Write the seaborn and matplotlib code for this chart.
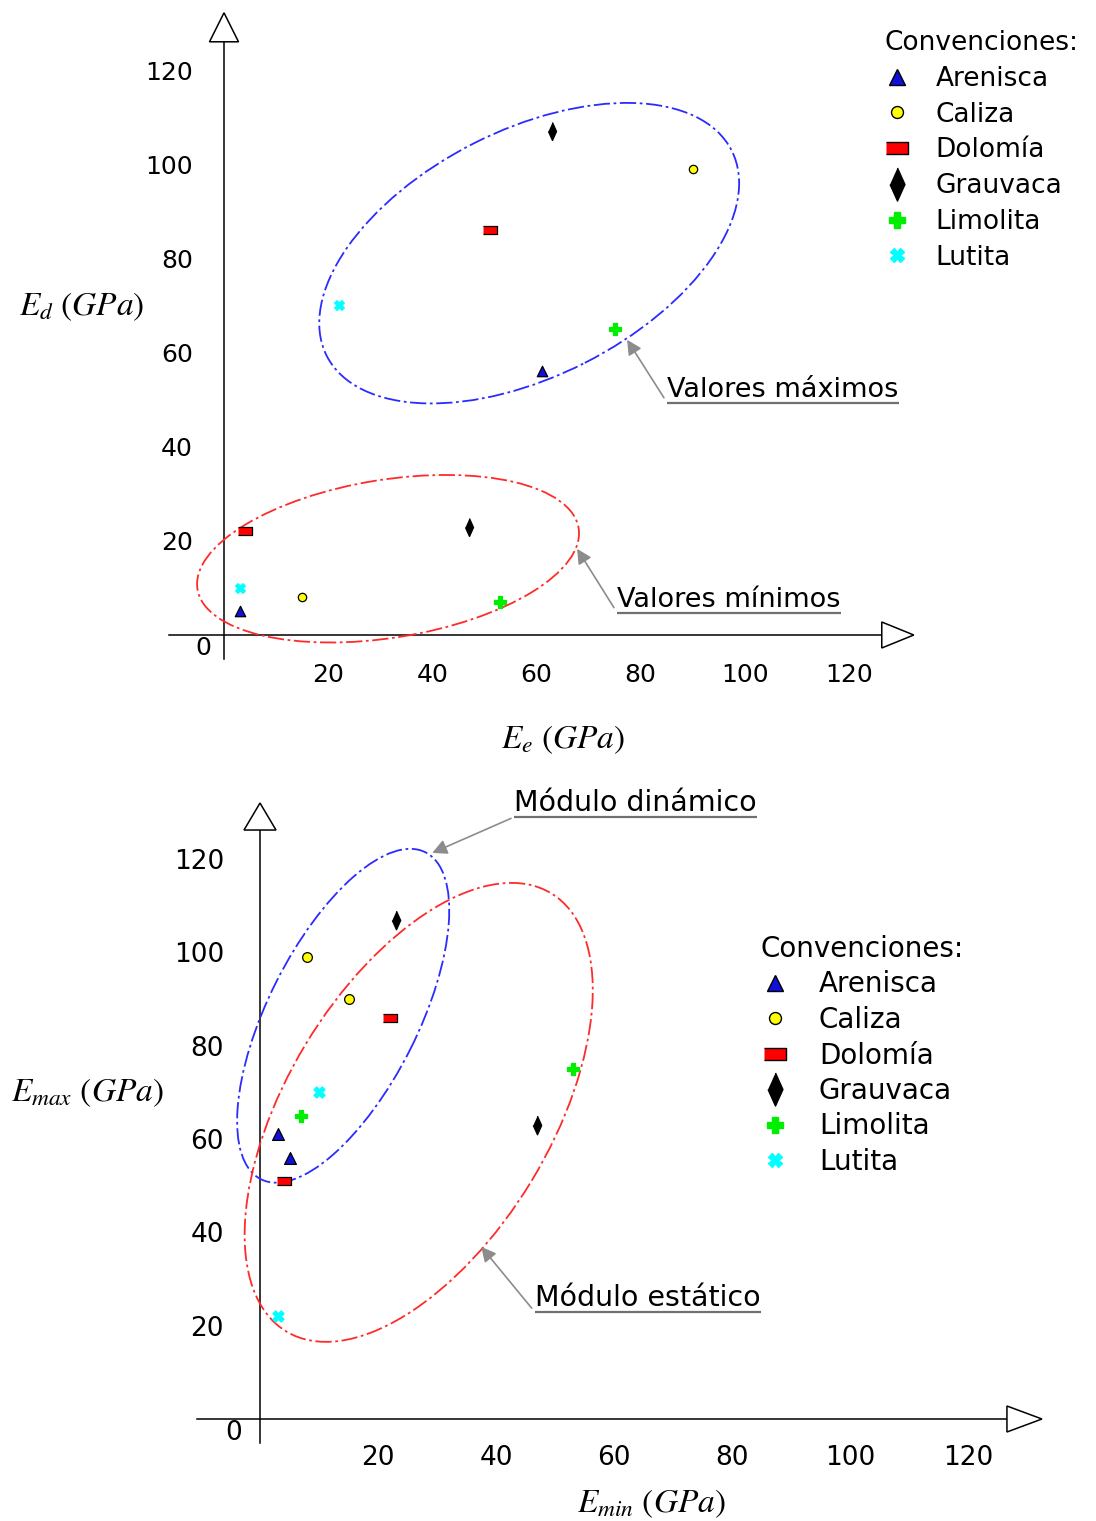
import numpy as np
import pandas as pd
import matplotlib
matplotlib.use("Agg")
import matplotlib.pyplot as plt
import seaborn as sns
from matplotlib.patches import Ellipse, Polygon
from matplotlib.lines import Line2D
from matplotlib.transforms import ScaledTranslation

# Módulos de elasticidad por tipo de roca (GPa)
rocas = ["Arenisca", "Caliza", "Dolomía", "Grauvaca", "Limolita", "Lutita"]
ee_min = [3, 15, 4, 47, 53, 3]       # módulo estático mínimo
ee_max = [61, 90, 51, 63, 75, 22]    # módulo estático máximo
ed_min = [5, 8, 22, 23, 7, 10]       # módulo dinámico mínimo
ed_max = [56, 99, 86, 107, 65, 70]   # módulo dinámico máximo

ticks = [20, 40, 60, 80, 100, 120]
tick_labels = ["20", "40", "60", "80", "100", "120"]

colores = ["#1010d8", "#ffff00", "#ff0000", "#000000", "#00ee00", "#00ffff"]
bordes = ["#000000", "#000000", "#000000", "#000000", "#00ee00", "#00ffff"]

rect = [(-1, -0.55), (1, -0.55), (1, 0.55), (-1, 0.55)]
rombo = [(0, 1), (0.45, 0), (0, -1), (-0.45, 0)]
marcadores = ["^", "o", rect, rombo, "P", "X"]

sns.set_style("white")
plt.rcParams["font.family"] = ["DejaVu Sans"]
plt.rcParams["mathtext.fontset"] = "stix"
for k in ["text.color", "axes.labelcolor", "xtick.color", "ytick.color",
          "xtick.labelcolor", "ytick.labelcolor", "legend.labelcolor"]:
    plt.rcParams[k] = "black"

DPI = 100
fig = plt.figure(figsize=(10.96, 15.21), dpi=DPI)
W, H = 1096, 1521


def axes_px(x0, sx, y0, sy, xlim, ylim):
    """Axes placed so that data x=0 lands on pixel x0 and y=0 on pixel row y0."""
    left = x0 + xlim[0] * sx
    right = x0 + xlim[1] * sx
    top = y0 - ylim[1] * sy
    bottom = y0 - ylim[0] * sy
    ax = fig.add_axes([left / W, 1 - bottom / H, (right - left) / W, (bottom - top) / H])
    ax.set_xlim(*xlim)
    ax.set_ylim(*ylim)
    return ax


def ejes(ax, xmin, ymin, xarrow, yarrow, tick_len, tick_fs, ypad, xpad, cero):
    for s in ["top", "right"]:
        ax.spines[s].set_visible(False)
    ax.spines["left"].set_position(("data", 0))
    ax.spines["bottom"].set_position(("data", 0))
    ax.spines["left"].set_bounds(ymin, yarrow[0])
    ax.spines["bottom"].set_bounds(xmin, xarrow[0])
    for s in ["left", "bottom"]:
        ax.spines[s].set_linewidth(1.1)
        ax.spines[s].set_color("black")
    ax.set_xticks(ticks)
    ax.set_xticklabels(tick_labels)
    ax.set_yticks(ticks)
    ax.set_yticklabels(tick_labels)
    ax.tick_params(axis="x", direction="out", length=tick_len, width=1.1,
                   labelsize=tick_fs, pad=xpad, colors="black")
    ax.tick_params(axis="y", direction="out", length=tick_len, width=1.1,
                   labelsize=tick_fs, pad=ypad, colors="black")
    # open triangular arrowheads at the end of each axis
    L, hw = xarrow[1] / DPI, xarrow[2] / DPI
    tri = Polygon([(0, -hw), (L, 0), (0, hw)], closed=True, fc="white", ec="black", lw=1.1,
                  transform=fig.dpi_scale_trans + ScaledTranslation(xarrow[0], 0, ax.transData),
                  clip_on=False, zorder=6)
    ax.add_patch(tri)
    L, hw = yarrow[1] / DPI, yarrow[2] / DPI
    tri = Polygon([(-hw, 0), (0, L), (hw, 0)], closed=True, fc="white", ec="black", lw=1.1,
                  transform=fig.dpi_scale_trans + ScaledTranslation(0, yarrow[0], ax.transData),
                  clip_on=False, zorder=6)
    ax.add_patch(tri)
    ax.text(cero[0], cero[1], "0", ha="center", va="center", fontsize=tick_fs, color="black")


def elipse(ax, centro, a, b, ang, color):
    e = Ellipse((0, 0), 2 * a / DPI, 2 * b / DPI, angle=ang, fill=False, ec=color, lw=1.3,
                ls=(0, (9, 2, 1.5, 2)),
                transform=fig.dpi_scale_trans + ScaledTranslation(centro[0], centro[1], ax.transData),
                clip_on=False, zorder=3)
    ax.add_patch(e)


def puntos(ax, df, x, y, tam):
    for i, r in enumerate(rocas):
        sub = df[df["roca"] == r]
        sns.scatterplot(data=sub, x=x, y=y, ax=ax, marker=marcadores[i], s=tam[i] ** 2,
                        color=colores[i], edgecolor=bordes[i], linewidth=0.9,
                        legend=False, zorder=5, clip_on=False)


notas = []


def nota(ax, texto, inicio, punta, fs):
    t = ax.annotate(texto, xy=punta, xytext=inicio, textcoords="data", ha="left", va="bottom",
                    fontsize=fs, color="black", zorder=7,
                    arrowprops=dict(arrowstyle="-|>,head_length=0.55,head_width=0.28",
                                    color="#8c8c8c", lw=1.2, shrinkA=0, shrinkB=0,
                                    relpos=(0, 0), mutation_scale=16))
    notas.append((ax, t, inicio))


def leyenda(ax, px, py, fs, tam, pad, esp):
    handles = [Line2D([], [], ls="none", marker=marcadores[i], ms=tam[i], mfc=colores[i],
                      mec=bordes[i], mew=1.0) for i in range(len(rocas))]
    ax.legend(handles, rocas, title="Convenciones:", loc="upper left",
              bbox_to_anchor=(px / W, 1 - py / H), bbox_transform=fig.transFigure,
              frameon=False, fontsize=fs, title_fontsize=fs, alignment="left",
              handlelength=1.0, handletextpad=pad, labelspacing=esp,
              borderpad=0, borderaxespad=0)


# ---------- panel superior: E_e frente a E_d ----------
ax1 = axes_px(224, 5.208, 635, 4.708, (-12, 135), (-8, 135))
sup = pd.DataFrame({
    "roca": rocas * 2,
    "E_e": ee_max + ee_min,
    "E_d": ed_max + ed_min,
})
ejes(ax1, -10.5, -5.1, (126.3, 32, 13), (126.0, 29, 14.5), 14.4, 18, 8, 6, (-4.0, -2.8))
elipse(ax1, (58.6, 81.1), 227, 123, 26.9, "#2b2bff")
elipse(ax1, (31.5, 16.2), 193, 79, 9.1, "#ff2b2b")
puntos(ax1, sup, "E_e", "E_d", [7.5, 6.0, 9.5, 13.0, 8.0, 7.0])
nota(ax1, "Valores máximos", (85.1, 49.3), (77.4, 62.7), 19.5)
nota(ax1, "Valores mínimos", (75.5, 4.7), (67.8, 18.3), 19.5)
ax1.set_xlabel(r"$E_e\ (GPa)$", fontsize=24)
ax1.set_ylabel(r"$E_d\ (GPa)$", fontsize=24, rotation=0)
ax1.xaxis.set_label_coords(65.1, -22.3, transform=ax1.transData)
ax1.yaxis.set_label_coords(-27.3, 69.7, transform=ax1.transData)
ax1.xaxis.label.set_va("center")
ax1.yaxis.label.set_va("center")
ax1.yaxis.label.set_ha("center")
leyenda(ax1, 884, 30, 19, [11.5, 8.6, 15.8, 23.8, 12.0, 10.0], 0.95, 0.37)

# ---------- panel inferior: E_min frente a E_max ----------
ax2 = axes_px(260, 5.9, 1419, 4.667, (-12, 135), (-8, 135))
inf = pd.DataFrame({
    "roca": rocas * 2,
    "E_min": ed_min + ee_min,
    "E_max": ed_max + ee_max,
})
ejes(ax2, -10.7, -5.1, (126.6, 35, 13), (126.2, 27, 16), 16, 19, 10, 3, (-4.4, -3.0))
elipse(ax2, (14.1, 86.4), 183, 75, 63.3, "#2b2bff")
elipse(ax2, (26.9, 65.7), 256, 132, 58.85, "#ff2b2b")
puntos(ax2, inf, "E_min", "E_max", [8.5, 7.0, 10.0, 13.5, 8.5, 8.0])
nota(ax2, "Módulo dinámico", (43.1, 129.0), (29.2, 121.3), 20.5)
nota(ax2, "Módulo estático", (46.6, 22.9), (37.5, 36.9), 20.5)
ax2.set_xlabel(r"$E_{min}\ (GPa)$", fontsize=24)
ax2.set_ylabel(r"$E_{max}\ (GPa)$", fontsize=24, rotation=0)
ax2.xaxis.set_label_coords(66.4, -18.0, transform=ax2.transData)
ax2.yaxis.set_label_coords(-29.2, 69.9, transform=ax2.transData)
ax2.xaxis.label.set_va("center")
ax2.yaxis.label.set_va("center")
ax2.yaxis.label.set_ha("center")
leyenda(ax2, 761, 935, 20, [11.5, 8.6, 15.8, 23.8, 12.0, 10.0], 1.08, 0.27)

# underline each callout text to the width it actually renders at
fig.canvas.draw()
ren = fig.canvas.get_renderer()
for ax, t, inicio in notas:
    bb = t.get_window_extent(ren)
    x1 = ax.transData.inverted().transform((bb.x1, bb.y0))[0]
    ax.plot([inicio[0], x1], [inicio[1], inicio[1]], color="#707070", lw=1.6,
            solid_capstyle="butt", clip_on=False, zorder=6)

fig.savefig("out.png", dpi=DPI, facecolor="white")
